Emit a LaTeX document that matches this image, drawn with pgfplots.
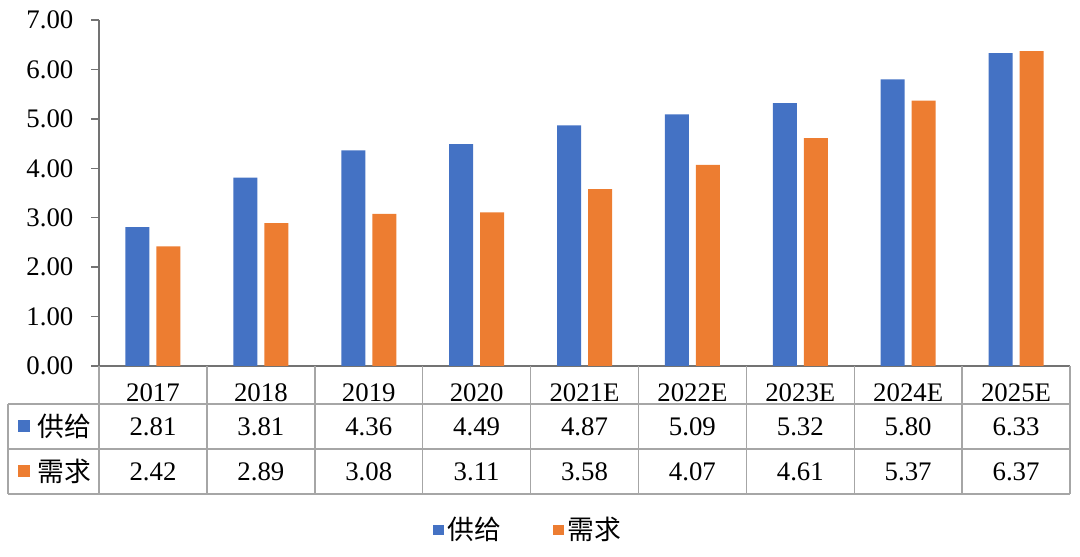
\documentclass[border=0pt]{standalone}
\usepackage{pgfplots}
\pgfplotsset{compat=1.18}
\usepackage{pgfplotstable}
\usepackage{fontspec}
\setmainfont{Liberation Serif}
\newfontfamily\cjk{Noto Sans CJK SC}
\definecolor{cblue}{HTML}{4472C4}
\definecolor{corange}{HTML}{ED7D31}
\definecolor{tline}{HTML}{A6A6A6}
\definecolor{aline}{HTML}{737373}

\pgfplotstableread{
x year supply demand
0 2017 2.81 2.42
1 2018 3.81 2.89
2 2019 4.36 3.08
3 2020 4.49 3.11
4 2021E 4.87 3.58
5 2022E 5.09 4.07
6 2023E 5.32 4.61
7 2024E 5.80 5.37
8 2025E 6.33 6.37
}\data

\newcommand\tf{\fontsize{13.4bp}{16bp}\selectfont}

\begin{document}
\tf
\begin{tikzpicture}[font=\tf]
\begin{axis}[
  scale only axis, width=485.5bp, height=173bp,
  xmin=-0.5, xmax=8.5, ymin=0, ymax=7,
  clip=false,
  axis lines=left,
  axis line style={aline, line width=0.7bp, -},
  xtick={0,...,8},
  xticklabels from table={\data}{year},
  xtick style={draw=none},
  xticklabel style={anchor=center, yshift=-9.5bp, font=\tf},
  ytick={0,...,7},
  ytick style={aline, line width=0.7bp},
  tick align=outside, major tick length=4bp,
  yticklabel style={font=\tf, xshift=-4.2bp, /pgf/number format/.cd, fixed, fixed zerofill, precision=2},
  /pgf/number format/assume math mode=true,
  legend style={at={(rel axis cs:0.443,-0.474)}, anchor=center, draw=none, fill=none,
    font=\tf, legend columns=2, /tikz/every even column/.append style={column sep=24bp}},
  legend image code/.code={\fill[#1] (0bp,-2.6bp) rectangle (5.2bp,2.6bp);},
]
% bounding box matching the reference canvas
\path (rel axis cs:-0.102,1.0578) rectangle (rel axis cs:1.0103,-0.552);

% data table grid
\pgfplotsinvokeforeach{-0.5,0.5,1.5,2.5,3.5,4.5,5.5,6.5,7.5,8.5}{
  \draw[tline, line width=0.7bp] (axis cs:#1,0) -- (axis cs:#1,-2.59);
}
\draw[tline, line width=0.7bp] (axis cs:-1.343,-0.769) -- (axis cs:8.5,-0.769);
\draw[tline, line width=0.7bp] (axis cs:-1.343,-1.679) -- (axis cs:8.5,-1.679);
\draw[tline, line width=0.7bp] (axis cs:-1.343,-2.59) -- (axis cs:8.5,-2.59);
\draw[tline, line width=0.7bp] (axis cs:-1.343,-0.769) -- (axis cs:-1.343,-2.59);

% row labels
\node[fill=cblue, minimum size=6bp, inner sep=0pt] at (axis cs:-1.195,-1.224) {};
\node[anchor=center, font=\tf] at (axis cs:-0.824,-1.224) {\cjk 供给};
\node[fill=corange, minimum size=6bp, inner sep=0pt] at (axis cs:-1.195,-2.134) {};
\node[anchor=center, font=\tf] at (axis cs:-0.824,-2.134) {\cjk 需求};

\addplot[ybar, bar width=12bp, bar shift=-7.75bp, fill=cblue, draw=none]
  table[x=x, y=supply]{\data};
\addlegendentry{\cjk 供给}
\addplot[ybar, bar width=12bp, bar shift=7.75bp, fill=corange, draw=none]
  table[x=x, y=demand]{\data};
\addlegendentry{\cjk 需求}

% table values
\addplot[draw=none, mark=none, forget plot, point meta=explicit,
  nodes near coords={\pgfmathprintnumber[fixed,fixed zerofill,precision=2]{\pgfplotspointmeta}},
  nodes near coords style={anchor=center, font=\tf}]
  table[x=x, y expr=-1.224, meta=supply]{\data};
\addplot[draw=none, mark=none, forget plot, point meta=explicit,
  nodes near coords={\pgfmathprintnumber[fixed,fixed zerofill,precision=2]{\pgfplotspointmeta}},
  nodes near coords style={anchor=center, font=\tf}]
  table[x=x, y expr=-2.134, meta=demand]{\data};
\end{axis}
\end{tikzpicture}
\end{document}
